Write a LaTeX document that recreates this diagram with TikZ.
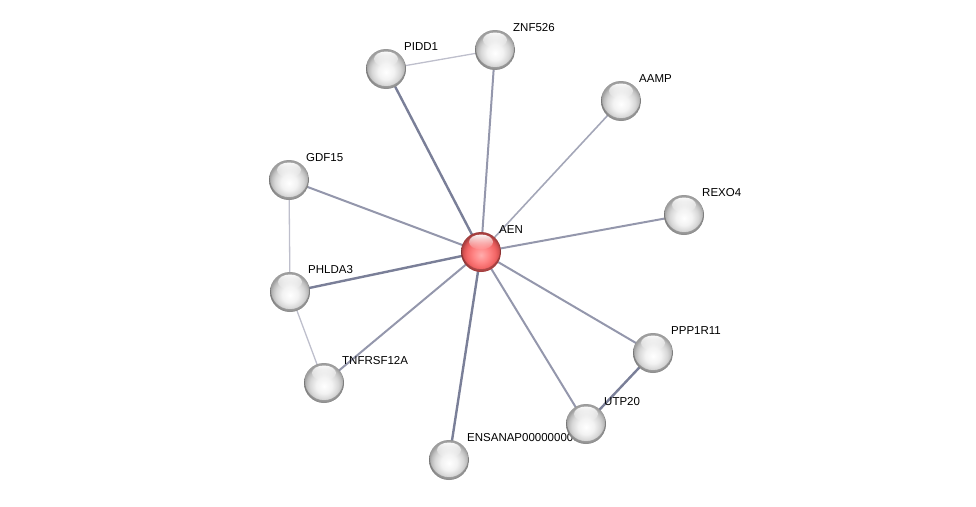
\documentclass[tikz,border=0pt]{standalone}
\usepackage{fontspec}
\setmainfont{Liberation Sans}
\usetikzlibrary{shadings,calc,fadings}
\definecolor{edgec}{HTML}{9497AC}
\definecolor{edged}{HTML}{7A7F98}
\definecolor{edgel}{HTML}{BEBFCC}
\pgfdeclareradialshading{gballsh}{\pgfpoint{0bp}{-4bp}}{%
  color(0bp)=(white);
  color(10bp)=(white!95!black);
  color(18bp)=(white!84!black);
  color(22bp)=(white!74!black);
  color(25bp)=(white!62!black);
  color(50bp)=(white!62!black)}
\pgfdeclareradialshading{rballsh}{\pgfpoint{0bp}{-4bp}}{%
  color(0bp)=(red!32!white);
  color(10bp)=(red!48!white);
  color(18bp)=(red!58!white!95!black);
  color(22bp)=(red!62!white!85!black);
  color(25bp)=(red!62!white!65!black);
  color(50bp)=(red!62!white!65!black)}
\tikzset{
  x=1pt,y=-1pt,
  ball/.style={circle,minimum size=40pt,inner sep=0pt,shading=gballsh,
    path picture={
      \fill[black,opacity=.25,even odd rule]
        (path picture bounding box.center) circle (20)
        ($(path picture bounding box.center)+(0,-2)$) circle (19.2);
      \fill[white,opacity=.95,path fading=south]
        ($(path picture bounding box.center)+(0,-10)$) ellipse (12 and 7.5);
    }},
  redball/.style={ball,shading=rballsh},
  lbl/.style={anchor=west,font=\fontsize{11.5}{12}\selectfont,inner sep=0pt},
  ed/.style={draw=edgec,line width=2pt},
  edk/.style={draw=edged,line width=2.4pt},
  edl/.style={draw=edgel,line width=1.3pt},
}
\begin{document}
\begin{tikzpicture}
\useasboundingbox (0,0) rectangle (976,506);
\coordinate (AEN) at (481,252);
\coordinate (PIDD1) at (386,69);
\coordinate (ZNF526) at (495,50);
\coordinate (AAMP) at (621,101);
\coordinate (REXO4) at (684,215);
\coordinate (GDF15) at (289,180);
\coordinate (PHLDA3) at (290,292);
\coordinate (TNFRSF12A) at (324,383);
\coordinate (ENSANAP) at (449,460);
\coordinate (UTP20) at (586,424);
\coordinate (PPP1R11) at (653,353);
% edges
\draw[edl] (PIDD1) -- (ZNF526);
\draw[edl] (GDF15) -- (PHLDA3);
\draw[edl] (PHLDA3) -- (TNFRSF12A);
\draw[edk] (PPP1R11) -- (UTP20);
\draw[edk] (AEN) -- (PIDD1);
\draw[ed] (AEN) -- (ZNF526);
\draw[ed,line width=1.6pt,draw=edgec!85!white] (AEN) -- (AAMP);
\draw[ed] (AEN) -- (REXO4);
\draw[ed] (AEN) -- (GDF15);
\draw[edk] (AEN) -- (PHLDA3);
\draw[ed] (AEN) -- (TNFRSF12A);
\draw[edk] (AEN) -- (ENSANAP);
\draw[ed] (AEN) -- (UTP20);
\draw[ed] (AEN) -- (PPP1R11);
% labels
\node[lbl] (lAEN) at ($(AEN)+(18,-22)$) {AEN};
\node[lbl] (lPIDD1) at ($(PIDD1)+(18,-22)$) {PIDD1};
\node[lbl] (lZNF526) at ($(ZNF526)+(18,-22)$) {ZNF526};
\node[lbl] (lAAMP) at ($(AAMP)+(18,-22)$) {AAMP};
\node[lbl] (lREXO4) at ($(REXO4)+(18,-22)$) {REXO4};
\node[lbl] (lGDF15) at ($(GDF15)+(17,-22)$) {GDF15};
\node[lbl] (lPHLDA3) at ($(PHLDA3)+(18,-22)$) {PHLDA3};
\node[lbl] (lTNFRSF12A) at ($(TNFRSF12A)+(18,-22)$) {TNFRSF12A};
\node[lbl] (lENSANAP) at ($(ENSANAP)+(18,-22)$) {ENSANAP00000000000};
\node[lbl] (lUTP20) at ($(UTP20)+(18,-22)$) {UTP20};
\node[lbl] (lPPP1R11) at ($(PPP1R11)+(18,-22)$) {PPP1R11};
% nodes
\node[ball] (nPIDD1) at (PIDD1) {};
\node[ball] (nZNF526) at (ZNF526) {};
\node[ball] (nAAMP) at (AAMP) {};
\node[ball] (nREXO4) at (REXO4) {};
\node[ball] (nGDF15) at (GDF15) {};
\node[ball] (nPHLDA3) at (PHLDA3) {};
\node[ball] (nTNFRSF12A) at (TNFRSF12A) {};
\node[ball] (nENSANAP) at (ENSANAP) {};
\node[ball] (nUTP20) at (UTP20) {};
\node[ball] (nPPP1R11) at (PPP1R11) {};
\node[redball] (nAEN) at (AEN) {};
\end{tikzpicture}
\end{document}
